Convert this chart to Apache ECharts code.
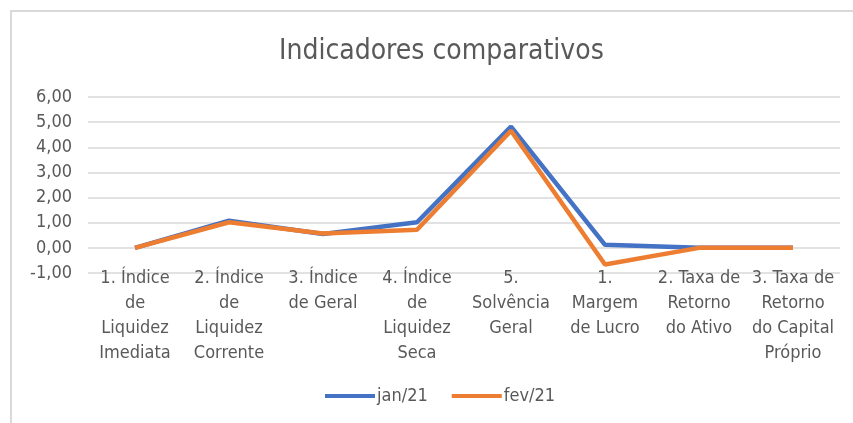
<!DOCTYPE html>
<html lang="pt-BR">
<head>
    <meta charset="UTF-8">
    <title>Indicadores comparativos</title>
    <script src="https://cdn.jsdelivr.net/npm/echarts@6/dist/echarts.min.js"></script>
    <style>
        html, body { margin: 0; padding: 0; background: #fff; }
        .frame {
            position: absolute;
            left: 10px; top: 10px;
            width: 843px; height: 413px;
            border-left: 2px solid #d9d9d9;
            border-top: 2px solid #d9d9d9;
        }
        #chart { position: absolute; left: 0; top: 0; width: 853px; height: 423px; }
    </style>
</head>
<body>
    <div class="frame"></div>
    <div id="chart"></div>
    <script>
        // categorias (quebras de linha como no original)
        const categories = [
            '1. Índice\nde\nLiquidez\nImediata',
            '2. Índice\nde\nLiquidez\nCorrente',
            '3. Índice\nde Geral',
            '4. Índice\nde\nLiquidez\nSeca',
            '5.\nSolvência\nGeral',
            '1.\nMargem\nde Lucro',
            '2. Taxa de\nRetorno\ndo Ativo',
            '3. Taxa de\nRetorno\ndo Capital\nPróprio'
        ];
        const jan21 = [0.00, 1.08, 0.55, 1.02, 4.82, 0.12, 0.00, 0.00];
        const fev21 = [0.00, 1.02, 0.57, 0.72, 4.66, -0.66, 0.00, 0.00];
        const seriesNames = ['jan/21', 'fev/21'];

        const textColor = '#595959';
        const font = "'DejaVu Sans Condensed', 'Liberation Sans', sans-serif";

        const chart = echarts.init(document.getElementById('chart'));
        chart.setOption({
            animation: false,
            color: ['#4472C4', '#ED7D31'],
            title: {
                text: 'Indicadores comparativos',
                left: 274,
                top: 33,
                textStyle: { color: textColor, fontSize: 28, fontWeight: 'normal', fontFamily: font }
            },
            legend: {
                bottom: 13,
                left: 320,
                itemWidth: 50,
                itemHeight: 4,
                itemGap: 24,
                icon: 'rect',
                textStyle: { color: textColor, fontSize: 18, fontFamily: font, padding: [0, 0, 0, -3] },
                data: seriesNames
            },
            grid: { left: 88, right: 13, top: 97, bottom: 150 },
            xAxis: {
                type: 'category',
                data: categories,
                boundaryGap: true,
                axisLine: { show: false, onZero: false },
                axisTick: { show: false },
                axisLabel: {
                    interval: 0,
                    margin: -7,
                    color: textColor,
                    fontSize: 18,
                    lineHeight: 25,
                    fontFamily: font,
                    align: 'center'
                }
            },
            yAxis: {
                type: 'value',
                min: -1,
                max: 6,
                interval: 1,
                axisLine: { show: false },
                axisTick: { show: false },
                splitLine: { lineStyle: { color: '#d9d9d9', width: 1.5 } },
                axisLabel: {
                    color: textColor,
                    fontSize: 18,
                    fontFamily: font,
                    margin: 16,
                    formatter: v => v.toFixed(2).replace('.', ',')
                }
            },
            series: [
                {
                    name: seriesNames[0], type: 'line', data: jan21,
                    symbol: 'none', lineStyle: { width: 4.5 }
                },
                {
                    name: seriesNames[1], type: 'line', data: fev21,
                    symbol: 'none', lineStyle: { width: 4.5 }
                }
            ]
        });
    </script>
</body>
</html>
